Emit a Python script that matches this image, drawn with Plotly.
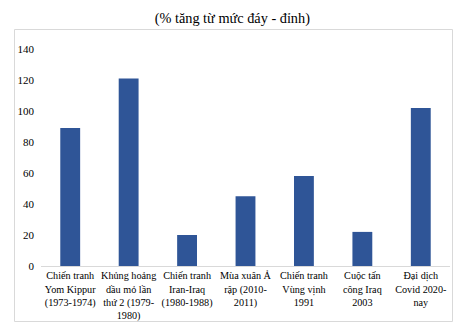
import plotly.graph_objects as go

categories = [
    "Chiến tranh<br>Yom Kippur<br>(1973-1974)",
    "Khủng hoảng<br>dầu mỏ lần<br>thứ 2 (1979-<br>1980)",
    "Chiến tranh<br>Iran-Iraq<br>(1980-1988)",
    "Mùa xuân Ả<br>rập (2010-<br>2011)",
    "Chiến tranh<br>Vùng vịnh<br>1991",
    "Cuộc tấn<br>công Iraq<br>2003",
    "Đại dịch<br>Covid 2020-<br>nay",
]
values = [89, 121, 20, 45, 58, 22, 102]
y_ticks = [0, 20, 40, 60, 80, 100, 120, 140]
title_text = "(% tăng từ mức đáy - đỉnh)"

W, H = 460, 331
ml, mr, mt, mb = 41, 10, 49, 65
pw, ph = W - ml - mr, H - mt - mb

def px_to_paper_x(px):
    return (px - ml) / pw

def px_to_paper_y(py):
    return (H - mb - py) / ph

font_family = "Liberation Serif, Times New Roman, serif"

fig = go.Figure(go.Bar(
    x=categories, y=values,
    marker=dict(color="#2F5597", line=dict(width=0)),
    width=0.34,
))

fig.update_layout(
    width=W, height=H,
    margin=dict(l=ml, r=mr, t=mt, b=mb, autoexpand=False),
    paper_bgcolor="white", plot_bgcolor="white",
    font=dict(family=font_family, size=11, color="#404040"),
    showlegend=False,
    title=dict(text=title_text, x=0.505, xref="container", xanchor="center",
               y=1 - 18 / H, yref="container", yanchor="middle",
               font=dict(family=font_family, size=14.3, color="#000000")),
    xaxis=dict(showgrid=False, showline=True, linecolor="#D9D9D9", linewidth=1,
               automargin=False,
               ticks="", tickangle=0, tickfont=dict(size=10.2, color="#000000")),
    yaxis=dict(range=[0, 140], tickvals=y_ticks, showgrid=False, zeroline=False,
               automargin=False,
               showline=False, ticks="", ticklabelstandoff=6,
               tickfont=dict(size=11, color="#000000")),
    shapes=[dict(type="rect", xref="paper", yref="paper",
                 x0=px_to_paper_x(14.5), x1=px_to_paper_x(452.5),
                 y0=px_to_paper_y(321.5), y1=px_to_paper_y(29.5),
                 line=dict(color="#D9D9D9", width=1), fillcolor="rgba(0,0,0,0)",
                 layer="below")],
)

fig.write_html("out.html")
